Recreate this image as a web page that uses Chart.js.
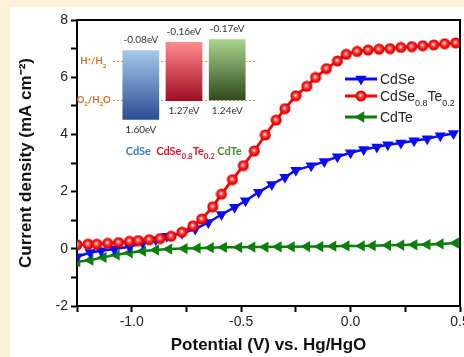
<!DOCTYPE html>
<html>
<head>
<meta charset="utf-8">
<script src="https://cdn.jsdelivr.net/npm/chart.js@4.4.1/dist/chart.umd.min.js"></script>
<style>
  html, body { margin: 0; padding: 0; }
  body { width: 464px; height: 357px; overflow: hidden; position: relative; background: #fdf3dc; }
  #panel { position: absolute; left: 10px; top: 7px; width: 462px; height: 350px; background: #fff; }
  #insetBox { position: absolute; left: 70px; top: 22px; width: 190px; height: 140px; }
  canvas { display: block; }
</style>
</head>
<body>
<div id="panel"><canvas id="main" width="462" height="350"></canvas></div>
<div id="insetBox"><canvas id="inset" width="190" height="140"></canvas></div>
<script>
/* ── Data ────────────────────────────────────────────────── */
const seriesNames = ['CdSe', 'CdSe0.8Te0.2', 'CdTe'];

// CdSe (blue, down triangles)
const cdseX = [-1.25, -1.19, -1.14, -1.08, -1.01, -0.95, -0.89, -0.84, -0.77, -0.71,
  -0.65, -0.59, -0.53, -0.48, -0.42, -0.36, -0.30, -0.25, -0.18, -0.12,
  -0.06, 0.00, 0.06, 0.12, 0.17, 0.23, 0.29, 0.35, 0.41, 0.47];
const cdseY = [-0.28, -0.13, -0.07, -0.01, 0.07, 0.20, 0.32, 0.44, 0.54, 0.69,
  0.92, 1.20, 1.45, 1.68, 1.98, 2.25, 2.50, 2.75, 2.90, 3.05,
  3.22, 3.36, 3.47, 3.56, 3.64, 3.70, 3.78, 3.85, 3.95, 4.03];

// CdSe0.8Te0.2 (red, circles)
const alloyX = [-1.25, -1.20, -1.16, -1.11, -1.06, -1.01, -0.97, -0.92, -0.87, -0.82,
  -0.77, -0.72, -0.68, -0.63, -0.59, -0.54, -0.49, -0.44, -0.39, -0.34,
  -0.30, -0.25, -0.20, -0.16, -0.11, -0.06, -0.02, 0.03, 0.08, 0.13,
  0.18, 0.23, 0.28, 0.33, 0.38, 0.43, 0.48];
const alloyY = [0.14, 0.16, 0.16, 0.19, 0.22, 0.26, 0.29, 0.32, 0.36, 0.44,
  0.58, 0.80, 1.04, 1.47, 1.91, 2.42, 2.91, 3.42, 3.98, 4.50,
  4.90, 5.35, 5.68, 5.99, 6.30, 6.57, 6.80, 6.90, 6.95, 6.98,
  7.00, 7.04, 7.07, 7.10, 7.13, 7.17, 7.20];

// CdTe (green, left triangles)
const cdteX = [-1.25, -1.19, -1.13, -1.07, -1.01, -0.95, -0.89, -0.83, -0.76, -0.70,
  -0.64, -0.58, -0.51, -0.45, -0.39, -0.33, -0.27, -0.20, -0.14, -0.08,
  -0.02, 0.05, 0.10, 0.17, 0.23, 0.29, 0.35, 0.41, 0.48];
const cdteY = [-0.45, -0.40, -0.30, -0.21, -0.14, -0.08, -0.04, -0.01, 0.01, 0.02,
  0.04, 0.05, 0.05, 0.06, 0.06, 0.07, 0.07, 0.08, 0.08, 0.09,
  0.10, 0.10, 0.11, 0.12, 0.13, 0.14, 0.15, 0.17, 0.20];

// inset band diagram (schematic eV, H+/H2 = 0)
const bandTop = [-0.34, -0.60, -0.69];
const bandBottom = [1.87, 1.27, 1.25];
const cbLabels = ['-0.08eV', '-0.16eV', '-0.17eV'];
const vbLabels = ['1.60eV', '1.27eV', '1.24eV'];
const redoxLevels = [0, 1.23];
const redoxParts = [
  [['H', 'n'], ['+', 'sup'], ['/H', 'n'], ['2', 'sub']],
  [['O', 'n'], ['2', 'sub'], ['/H', 'n'], ['2', 'sub'], ['O', 'n']],
];

const bandColors = [['#a6c9ec', '#2b4d93'], ['#ff8b8f', '#a10c22'], ['#aad48f', '#2e4a1b']];
const nameColors = ['#3d7cc9', '#d7192a', '#4d8b2b'];

/* ── Helpers ─────────────────────────────────────────────── */
const FONT = "'Liberation Sans', Arial, sans-serif";
Chart.defaults.font.family = FONT;

const pts = (xs, ys) => xs.map((x, i) => ({ x, y: ys[i] }));
const nameParts = s => s.split(/(\d+\.\d+)/).filter(Boolean).map(t => [t, /^\d/.test(t) ? 'sub' : 'n']);

function drawRich(ctx, parts, x, y, o) {
  const { size, color, family = FONT, weight = 'normal', align = 'left', sub = 0.65 } = o;
  const fontOf = m => `${weight} ${m === 'n' ? size : Math.round(size * sub)}px ${family}`;
  ctx.save();
  ctx.fillStyle = color;
  ctx.textBaseline = 'alphabetic';
  ctx.textAlign = 'left';
  let w = 0;
  parts.forEach(([t, m]) => { ctx.font = fontOf(m); w += ctx.measureText(t).width; });
  let cx = align === 'right' ? x - w : align === 'center' ? x - w / 2 : x;
  parts.forEach(([t, m]) => {
    ctx.font = fontOf(m);
    const dy = m === 'sub' ? size * 0.35 : m === 'sup' ? -size * 0.4 : 0;
    ctx.fillText(t, cx, y + dy);
    cx += ctx.measureText(t).width;
  });
  ctx.restore();
  return w;
}

function sphere(r) {
  const c = document.createElement('canvas');
  const d = Math.ceil(r * 2) + 1;
  c.width = c.height = d;
  const g = c.getContext('2d');
  const m = d / 2;
  const grad = g.createRadialGradient(m - 0.6, m - 0.8, 0.4, m, m, r);
  grad.addColorStop(0, '#ffeaea');
  grad.addColorStop(0.3, '#ff5050');
  grad.addColorStop(0.75, '#f40000');
  grad.addColorStop(1, '#c80000');
  g.fillStyle = grad;
  g.beginPath(); g.arc(m, m, r, 0, Math.PI * 2); g.fill();
  return c;
}

/* ── Main chart plugins ──────────────────────────────────── */
const framePlugin = {
  id: 'frame',
  afterDraw(chart) {
    const { ctx, chartArea: a } = chart;
    ctx.save();
    ctx.strokeStyle = '#000';
    ctx.lineWidth = 2;
    ctx.beginPath();
    ctx.moveTo(a.left, a.top);
    ctx.lineTo(a.right, a.top);
    ctx.lineTo(a.right, a.bottom);
    ctx.stroke();
    ctx.restore();
  }
};

const legendPlugin = {
  id: 'seriesLegend',
  afterDraw(chart) {
    const ctx = chart.ctx;
    const rows = [72, 89, 110];
    chart.data.datasets.forEach((ds, i) => {
      const y = rows[i];
      ctx.save();
      ctx.strokeStyle = ds.borderColor;
      ctx.lineWidth = 3;
      ctx.beginPath(); ctx.moveTo(335, y); ctx.lineTo(367, y); ctx.stroke();
      ctx.fillStyle = ds.pointBackgroundColor;
      Chart.helpers.drawPoint(ctx, {
        pointStyle: ds.pointStyle, rotation: ds.pointRotation || 0,
        radius: ds.pointRadius, borderWidth: 0
      }, 351, y);
      ctx.restore();
      drawRich(ctx, nameParts(seriesNames[i]), 370, y + 5, { size: 14, color: '#222' });
    });
  }
};

const tickStyle = { drawOnChartArea: false, drawTicks: true, tickLength: 6, tickWidth: 2, tickColor: '#000' };

new Chart(document.getElementById('main'), {
  type: 'line',
  data: {
    datasets: [
      {
        label: seriesNames[0], data: pts(cdseX, cdseY), order: 1,
        borderColor: '#0a0aff', borderWidth: 2.5,
        pointStyle: 'triangle', pointRotation: 180, pointRadius: 6.5,
        pointBackgroundColor: '#0a0aff', pointBorderWidth: 0
      },
      {
        label: seriesNames[1], data: pts(alloyX, alloyY), order: 0,
        borderColor: '#ff0000', borderWidth: 2.8,
        pointStyle: sphere(5.5), pointRadius: 5.5,
        pointBackgroundColor: '#ff0000', pointBorderWidth: 0
      },
      {
        label: seriesNames[2], data: pts(cdteX, cdteY), order: 2,
        borderColor: '#0a7d0a', borderWidth: 2.5,
        pointStyle: 'triangle', pointRotation: 270, pointRadius: 6.5,
        pointBackgroundColor: '#0a7d0a', pointBorderWidth: 0
      }
    ]
  },
  options: {
    responsive: false, animation: false,
    layout: { padding: { top: 13, right: 12, left: 0, bottom: 0 } },
    plugins: { legend: { display: false }, tooltip: { enabled: false } },
    scales: {
      x: {
        type: 'linear', min: -1.25, max: 0.5,
        border: { color: '#000', width: 2 },
        grid: tickStyle,
        ticks: {
          stepSize: 0.25, autoSkip: false, maxRotation: 0, padding: 2,
          color: '#222', font: { size: 14 },
          callback: v => Math.abs(v * 2 - Math.round(v * 2)) < 1e-6 ? (Math.round(v * 10) / 10).toFixed(1) : ''
        },
        title: {
          display: true, text: 'Potential (V) vs. Hg/HgO', color: '#111',
          font: { size: 17, weight: 'bold' }, padding: { top: 0, bottom: 1 }
        },
        afterFit: s => { s.height = 51; }
      },
      y: {
        min: -2, max: 8,
        border: { color: '#000', width: 2 },
        grid: tickStyle,
        ticks: {
          stepSize: 1, autoSkip: false, padding: 3,
          color: '#222', font: { size: 14 },
          callback: v => v % 2 === 0 ? String(v) : ''
        },
        title: {
          display: true, text: 'Current density (mA cm\u207B\u00B2)', color: '#111',
          font: { size: 17, weight: 'bold' }, padding: { top: 6, bottom: 0 }
        },
        afterFit: s => { s.width = 67; }
      }
    }
  },
  plugins: [framePlugin, legendPlugin]
});

/* ── Inset: band positions ───────────────────────────────── */
const bandPlugin = {
  id: 'bands',
  beforeDatasetsDraw(chart) {
    const { ctx, chartArea: a, scales: { y } } = chart;
    // gradient fill per bar, from its own top to bottom
    chart.getDatasetMeta(0).data.forEach((bar, i) => {
      const g = ctx.createLinearGradient(0, y.getPixelForValue(bandTop[i]), 0, y.getPixelForValue(bandBottom[i]));
      g.addColorStop(0, bandColors[i][0]);
      g.addColorStop(1, bandColors[i][1]);
      bar.options.backgroundColor = g;
    });
    ctx.save();
    ctx.strokeStyle = '#ee8034';
    ctx.lineWidth = 1;
    ctx.setLineDash([2, 2]);
    redoxLevels.forEach(v => {
      const py = Math.round(y.getPixelForValue(v)) + 0.5;
      ctx.beginPath(); ctx.moveTo(a.left - 6, py); ctx.lineTo(a.right + 6, py); ctx.stroke();
    });
    ctx.restore();
    redoxParts.forEach((p, i) => drawRich(ctx, p, a.left - (i ? 8.5 : 13), y.getPixelForValue(redoxLevels[i]) + 3.5,
      { size: 9.5, color: '#e06a1c', family: 'Lato', weight: 'bold', align: 'right' }));
  },
  afterDatasetsDraw(chart) {
    const { ctx, chartArea: a, scales: { y } } = chart;
    const meta = chart.getDatasetMeta(0);
    meta.data.forEach((bar, i) => {
      const opt = { size: 10, color: '#333', family: 'Lato', align: 'center' };
      drawRich(ctx, [[cbLabels[i], 'n']], bar.x, y.getPixelForValue(bandTop[i]) - 6.8, opt);
      drawRich(ctx, [[vbLabels[i], 'n']], bar.x, y.getPixelForValue(bandBottom[i]) + 13.5, opt);
    });
    // material names under the bars, start offsets from the plot edge
    const starts = [6.5, 37, 98];
    seriesNames.forEach((n, i) => {
      drawRich(ctx, nameParts(n), a.left + starts[i], 132.7,
        { size: 11, color: nameColors[i], family: 'Lato', weight: 'bold', sub: 0.7 });
    });
  }
};

new Chart(document.getElementById('inset'), {
  type: 'bar',
  data: {
    labels: seriesNames,
    datasets: [{
      data: seriesNames.map((_, i) => [bandTop[i], bandBottom[i]]),
      backgroundColor: bandColors.map(c => c[0]),
      borderWidth: 0,
      barPercentage: 0.85,
      categoryPercentage: 1
    }]
  },
  options: {
    responsive: false, animation: false,
    layout: { padding: { left: 49.2, right: 11.2, top: 13.8, bottom: 38.1 } },
    plugins: { legend: { display: false }, tooltip: { enabled: false } },
    scales: {
      x: { display: false },
      y: { display: false, reverse: true, min: -0.8, max: 2.0 }
    }
  },
  plugins: [bandPlugin]
});
</script>
</body>
</html>
